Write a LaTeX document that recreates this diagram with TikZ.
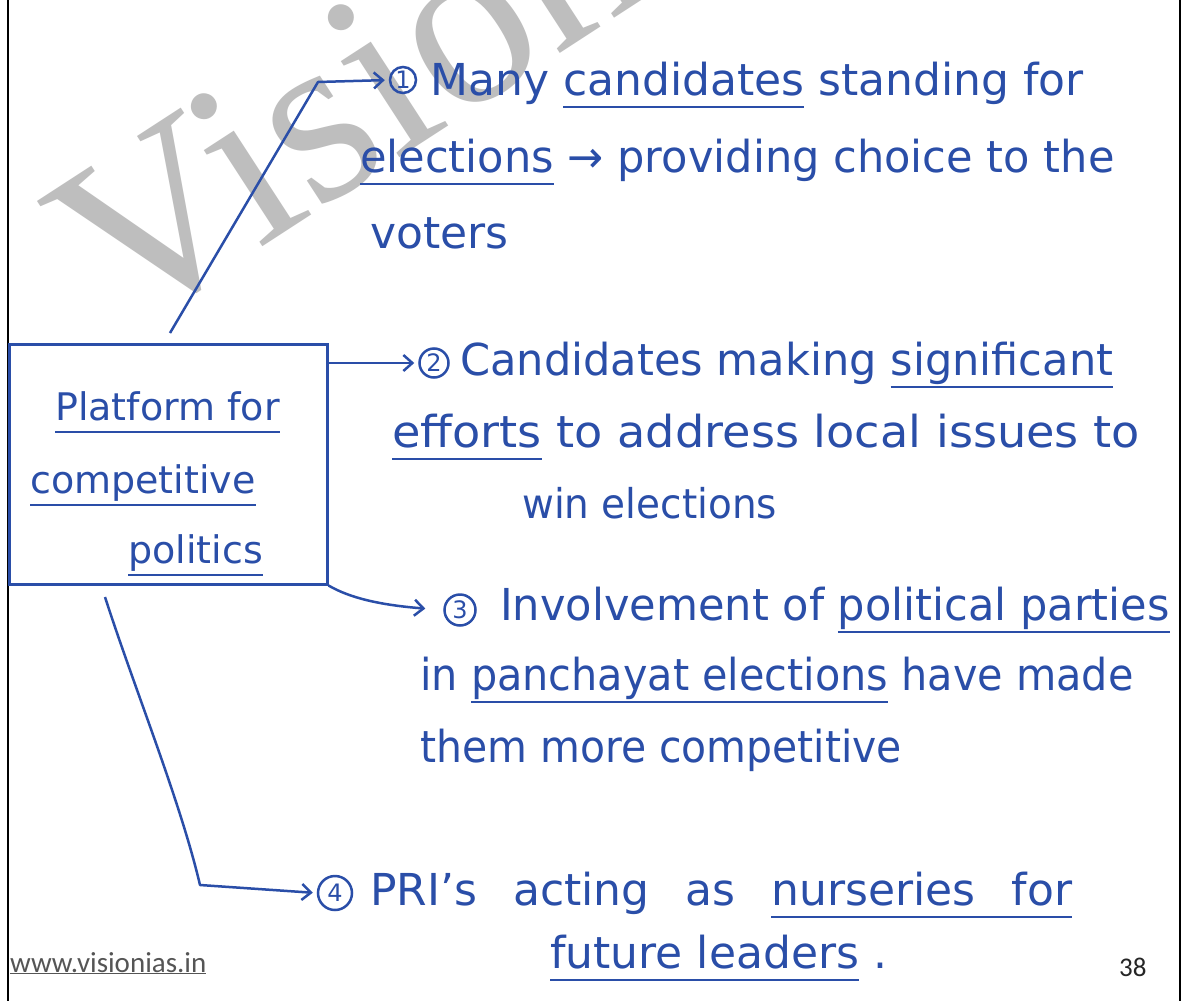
\documentclass[tikz,border=0pt]{standalone}
\usepackage{fontspec}
\setmainfont{DejaVu Sans}
\newfontfamily\footfont{Carlito}
\newfontfamily\wmfont{Liberation Serif}
\usetikzlibrary{arrows.meta}
\definecolor{ink}{RGB}{42,78,168}
\definecolor{wmgray}{RGB}{190,190,190}
\definecolor{footgray}{RGB}{85,85,85}
\newcommand\ulx[1]{\leavevmode\setbox0\hbox{#1}\rlap{\rule[-13pt]{\wd0}{2.5pt}}\box0\relax}
\newcommand\gap{\hspace{22pt}}
\begin{document}
\begin{tikzpicture}[x=1pt,y=-1pt,
  hw/.style={anchor=base west, inner sep=0pt, text=ink, font=\fontsize{44}{52}\selectfont},
  boxtext/.style={anchor=base west, inner sep=0pt, text=ink, font=\fontsize{38}{46}\selectfont},
  num/.style={circle, draw=ink, line width=2.5pt, text=ink, inner sep=0pt, minimum size=#1, font=\fontsize{24}{26}\selectfont},
  num/.default=28pt,
  link/.style={draw=ink, line width=2.5pt, -{Straight Barb[length=9pt,width=16pt]}, line join=round, shorten >=4pt},
  ]
\useasboundingbox (0,0) rectangle (1186,1001);
\fill[white] (0,0) rectangle (1186,1001);
% watermark
\begin{scope}
\clip (0,0) rectangle (1186,1001);
\node[anchor=base west, inner sep=0pt, rotate=33, text=wmgray, font=\wmfont\fontsize{245}{245}\selectfont] (wmark) at (122,338) {VisionIAS};
\end{scope}
% page border
\draw[line width=2.5pt] (8,0) -- (8,1001);
\draw[line width=2.5pt] (1180,0) -- (1180,1001);
% central box
\node[draw=ink, line width=2.5pt, minimum width=318pt, minimum height=240pt, anchor=north west, inner sep=0pt] (box) at (8,343) {};
\node[boxtext] (bx1) at (55,420) {\ulx{Platform for}};
\node[boxtext] (bx2) at (30,493) {\ulx{competitive}};
\node[boxtext] (bx3) at (128,563) {\ulx{politics}};
% numbers
\node[num=26pt] (n1) at (403,80) {1};
\node[num=29pt] (n2) at (434,363) {2};
\node[num=31pt] (n3) at (460,610) {3};
\node[num=34pt] (n4) at (335,893) {4};
% text lines
\node[hw] (t1a) at (430,95) {Many \ulx{candidates} standing for};
\node[hw] (t1b) at (360,172) {\scalebox{0.98}[1]{\ulx{elections} → providing choice to the}};
\node[hw] (t1c) at (370,248) {voters};
\node[hw] (t2a) at (460,375) {\scalebox{0.98}[1]{Candidates making \ulx{significant}}};
\node[hw] (t2b) at (392,447) {\scalebox{1.05}[1]{\ulx{efforts} to address local issues to}};
\node[hw, font=\fontsize{41}{48}\selectfont] (t2c) at (522,518) {\scalebox{0.95}[1]{win elections}};
\node[hw] (t3a) at (500,620) {\scalebox{0.98}[1]{Involvement of \ulx{political parties}}};
\node[hw] (t3b) at (420,690) {\scalebox{0.94}[1]{in \ulx{panchayat elections} have made}};
\node[hw] (t3c) at (420,762) {\scalebox{0.93}[1]{them more competitive}};
\node[hw] (t4a) at (370,905) {PRI's\gap{} acting\gap{} as\gap{} \ulx{nurseries\gap{} for}};
\node[hw] (t4b) at (550,968) {\ulx{future leaders} .};
% footer
\node[anchor=base west, inner sep=0pt, text=footgray, font=\footfont\fontsize{29}{31}\selectfont] (url) at (10,972) {\underline{www.visionias.in}};
\node[anchor=base west, inner sep=0pt, text=black!85, font=\footfont\fontsize{27}{29}\selectfont] (page) at (1119,976) {38};
% connectors
\coordinate (s1) at (170,333);
\coordinate (k1) at (318,82);
\draw[link] (s1) -- (k1) -- (n1.west);
\draw[link] (box.east |- n2) -- (n2.west);
\draw[link, shorten >=18pt] (box.south east) .. controls (350,598) and (380,605) .. (n3.west);
\coordinate (s4) at (105,597);
\coordinate (k4) at (200,885);
\draw[link] (s4) .. controls (135,690) and (180,800) .. (k4) -- (n4.west);
\end{tikzpicture}
\end{document}
